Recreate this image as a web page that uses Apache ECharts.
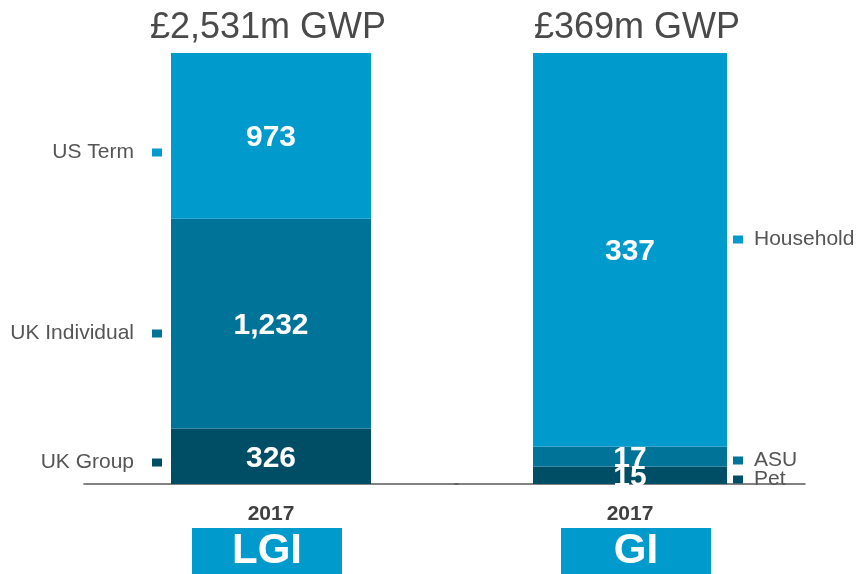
<!DOCTYPE html>
<html>
<head>
<meta charset="utf-8">
<script src="https://cdn.jsdelivr.net/npm/echarts@6/dist/echarts.min.js"></script>
<style>
  html, body { margin: 0; padding: 0; background: #fff; }
  #main { width: 860px; height: 574px; }
</style>
</head>
<body>
<div id="main"></div>
<script>
// data, stacked bottom to top
const years = ["2017"];
const lgiNames = ["UK Group", "UK Individual", "US Term"];
const lgiValues = [326, 1232, 973];
const giNames = ["Pet", "ASU", "Household"];
const giValues = [15, 17, 337];
const panelNames = ["LGI", "GI"];

const colors = ["#004d66", "#007399", "#009acd"];
const font = "Liberation Sans, Arial, sans-serif";

const lgiTotal = lgiValues.reduce((a, b) => a + b, 0);
const giTotal = giValues.reduce((a, b) => a + b, 0);
const fmt = (v) => "£" + v.toLocaleString("en-GB") + "m GWP";

let chart = echarts.init(document.getElementById("main"));

function makeSeries(names, values, axis) {
  return names.map((n, i) => ({
    name: n,
    type: "bar",
    stack: "s" + axis,
    xAxisIndex: axis,
    yAxisIndex: axis,
    barWidth: axis === 0 ? 200 : 194,
    itemStyle: { color: colors[i] },
    label: {
      show: true,
      position: "inside",
      color: "#fff",
      fontSize: 30,
      fontWeight: "bold",
      fontFamily: font,
      offset: [0, 2],
      formatter: (p) => p.value.toLocaleString("en-GB"),
    },
    data: [values[i]],
  }));
}

// one legend per segment so each marker sits next to its block
const leftTops = [452, 323, 142];
const rightTops = [469, 450, 229];
let legends = [];
lgiNames.forEach((n, i) => {
  legends.push({
    data: [n],
    right: 698,
    top: leftTops[i],
    align: "right",
    icon: "rect",
    itemWidth: 10,
    itemHeight: 8,
    padding: 0,
    selectedMode: false,
    textStyle: { fontSize: 21, color: "#555", fontFamily: font, padding: [0, 13, 0, 0] },
  });
});
giNames.forEach((n, i) => {
  legends.push({
    data: [n],
    left: 733,
    top: rightTops[i],
    align: "left",
    icon: "rect",
    itemWidth: 10,
    itemHeight: 8,
    padding: 0,
    selectedMode: false,
    textStyle: { fontSize: 21, color: "#555", fontFamily: font, padding: [0, 0, 0, 6] },
  });
});

const axisCommon = {
  type: "category",
  data: years,
  axisTick: { show: false },
  axisLine: { lineStyle: { color: "#595959", width: 1.5 } },
  axisLabel: { color: "#404040", fontSize: 21, fontWeight: "bold", fontFamily: font, margin: 20 },
};

chart.setOption({
  animation: false,
  title: [
    { text: fmt(lgiTotal), left: 268, top: 10, textAlign: "center", padding: 0,
      textStyle: { fontSize: 36, fontWeight: "normal", color: "#4a4a4a", fontFamily: font } },
    { text: fmt(giTotal), left: 637, top: 10, textAlign: "center", padding: 0,
      textStyle: { fontSize: 36, fontWeight: "normal", color: "#4a4a4a", fontFamily: font } },
  ],
  legend: legends,
  grid: [
    { left: 84, width: 374, top: 53, height: 431 },
    { left: 455, width: 350, top: 53, height: 431 },
  ],
  xAxis: [
    Object.assign({ gridIndex: 0 }, axisCommon),
    Object.assign({ gridIndex: 1 }, axisCommon),
  ],
  yAxis: [
    { type: "value", gridIndex: 0, min: 0, max: lgiTotal, show: false },
    { type: "value", gridIndex: 1, min: 0, max: giTotal, show: false },
  ],
  series: makeSeries(lgiNames, lgiValues, 0).concat(makeSeries(giNames, giValues, 1)),
  graphic: [
    { type: "rect", shape: { x: 192, y: 528, width: 150, height: 50 }, style: { fill: "#009acd" } },
    { type: "text", x: 267, y: 551, style: { text: panelNames[0], fill: "#fff", fontSize: 42, fontWeight: "bold", fontFamily: font, align: "center", verticalAlign: "middle" } },
    { type: "rect", shape: { x: 561, y: 528, width: 150, height: 50 }, style: { fill: "#009acd" } },
    { type: "text", x: 636, y: 551, style: { text: panelNames[1], fill: "#fff", fontSize: 42, fontWeight: "bold", fontFamily: font, align: "center", verticalAlign: "middle" } },
  ],
});
</script>
</body>
</html>
